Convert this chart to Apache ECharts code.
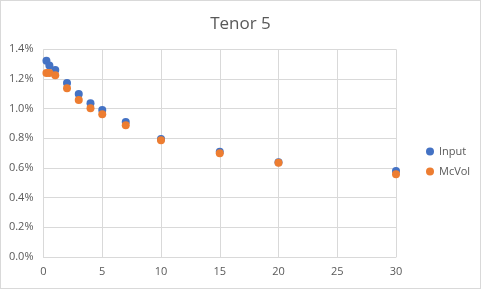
<!DOCTYPE html>
<html><head><meta charset="utf-8">
<script src="https://cdn.jsdelivr.net/npm/echarts@6/dist/echarts.min.js"></script>
<style>
html,body{margin:0;padding:0;background:#fff;}
#c{width:479px;height:287px;border:1px solid #d9d9d9;}
</style></head>
<body><div id="c"></div>
<script>
const title = "Tenor 5";
const xValues = [0.25, 0.5, 1, 2, 3, 4, 5, 7, 10, 15, 20, 30];
const inputVals = [1.322, 1.291, 1.261, 1.173, 1.099, 1.037, 0.991, 0.910, 0.796, 0.710, 0.638, 0.580];
const mcvolVals = [1.241, 1.241, 1.225, 1.137, 1.059, 1.003, 0.962, 0.888, 0.787, 0.699, 0.636, 0.558];
const seriesNames = ["Input", "McVol"];
const colors = ["#4472c4", "#ed7d31"];

const chart = echarts.init(document.getElementById('c'), null, {renderer:'canvas'});
const font = "'Open Sans', 'Noto Sans', sans-serif";
chart.setOption({
  animation:false,
  title:{text:title, left:'center', top:10, textStyle:{fontFamily:font, fontSize:17, fontWeight:'normal', color:'#595959'}},
  legend:{
    orient:'vertical', left:420, top:140, itemGap:9, itemWidth:8, itemHeight:8,
    icon:'circle',
    textStyle:{fontFamily:font, fontSize:11, color:'#595959'},
    data:seriesNames
  },
  grid:{left:42.5, right:84, top:48.3, bottom:31},
  xAxis:{
    type:'value', min:0, max:30, interval:5,
    axisLine:{show:true, lineStyle:{color:'#d9d9d9'}},
    axisTick:{show:false},
    splitLine:{show:true, lineStyle:{color:'#d9d9d9'}},
    axisLabel:{fontFamily:font, fontSize:11, color:'#595959', margin:9}
  },
  yAxis:{
    type:'value', min:0, max:1.4, interval:0.2,
    axisLine:{show:false},
    axisTick:{show:false},
    splitLine:{show:true, lineStyle:{color:'#d9d9d9'}},
    axisLabel:{fontFamily:font, fontSize:11, color:'#595959', margin:10,
      formatter:v=>v.toFixed(1)+'%'}
  },
  series:[
    {name:seriesNames[0], type:'scatter', symbolSize:8, itemStyle:{color:colors[0], opacity:1},
     data:xValues.map((x,i)=>[x,inputVals[i]])},
    {name:seriesNames[1], type:'scatter', symbolSize:8, itemStyle:{color:colors[1], opacity:1},
     data:xValues.map((x,i)=>[x,mcvolVals[i]])}
  ]
});
</script></body></html>
